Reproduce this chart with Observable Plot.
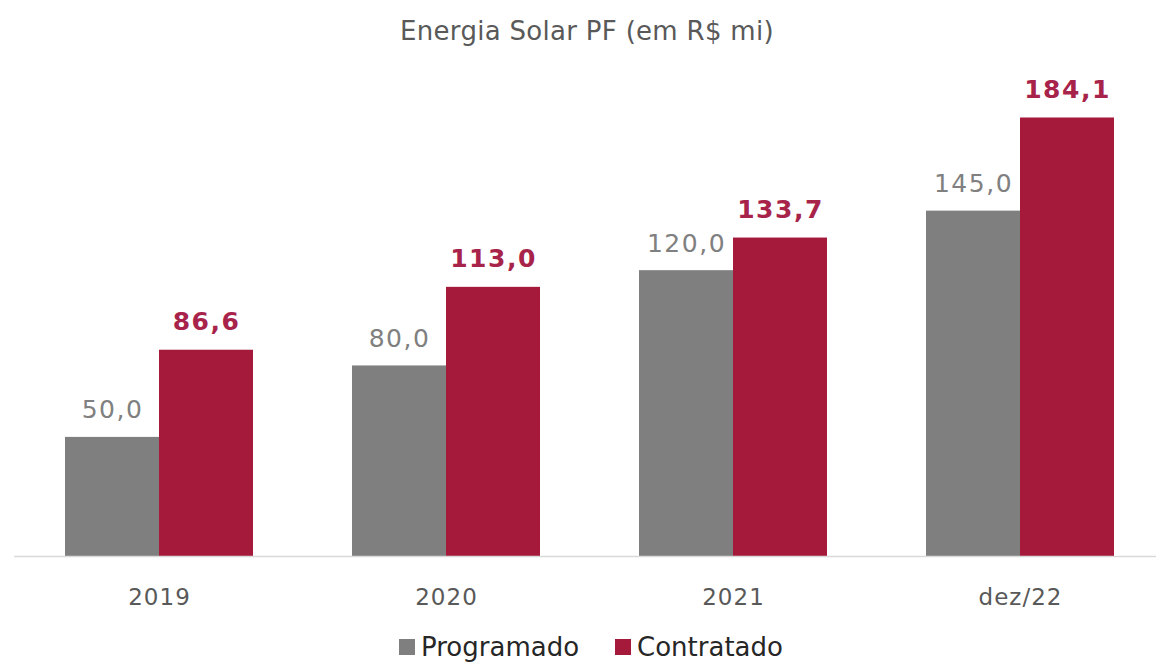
<!DOCTYPE html>
<html>
<head>
<meta charset="utf-8">
<script src="https://cdn.jsdelivr.net/npm/d3@7"></script>
<script src="https://cdn.jsdelivr.net/npm/@observablehq/plot@0.6"></script>
<style>
  html, body { margin: 0; padding: 0; background: #fff; }
  body { width: 1156px; height: 663px; overflow: hidden; font-family: "DejaVu Sans", sans-serif; }
  #title { height: 58px; text-align: center; font-size: 26px; color: #595959; line-height: 62px; padding-left: 18px; box-sizing: border-box; letter-spacing: 0.3px; }
  #chart svg { display: block; }
  #legend { display: flex; justify-content: center; gap: 36px; font-size: 26px; color: #262626; padding-left: 26px; margin-top: 12px; }
  #legend span.item { display: flex; align-items: center; }
  #legend i { display: inline-block; width: 16px; height: 16px; margin-right: 6px; }
</style>
</head>
<body>
<div id="title">Energia Solar PF (em R$ mi)</div>
<div id="chart"></div>
<div id="legend"></div>
<script>
const categories = ["2019", "2020", "2021", "dez/22"];
const programado = [50.0, 80.0, 120.0, 145.0];
const contratado = [86.6, 113.0, 133.7, 184.1];
const seriesNames = ["Programado", "Contratado"];
const seriesColors = ["#7f7f7f", "#a51a3b"];
const labelColors = ["#808080", "#a8234a"];

const fmt = v => v.toFixed(1).replace(".", ",");
const progData = categories.map((c, i) => ({cat: c, value: programado[i]}));
const contData = categories.map((c, i) => ({cat: c, value: contratado[i]}));

const half = 94;
const chart = Plot.plot({
  width: 1156,
  height: 562,
  marginLeft: 14,
  marginRight: 0,
  marginTop: 24,
  marginBottom: 64,
  style: {fontFamily: "DejaVu Sans, sans-serif", background: "#fff"},
  x: {type: "band", domain: categories, paddingInner: 0.345, paddingOuter: 0.162, align: 0.548, label: null},
  y: {domain: [0, 199], axis: null},
  marks: [
    Plot.barY(progData, {x: "cat", y: "value", fill: seriesColors[0], insetLeft: 0, insetRight: half}),
    Plot.barY(contData, {x: "cat", y: "value", fill: seriesColors[1], insetLeft: half, insetRight: 0}),
    Plot.ruleY([0], {stroke: "#d9d9d9", strokeWidth: 1.5}),
    Plot.text(progData, {x: "cat", y: "value", text: d => fmt(d.value), dx: -47, dy: -27, fill: labelColors[0], fontSize: 25, lineAnchor: "middle"}),
    Plot.text(contData, {x: "cat", y: "value", text: d => fmt(d.value), dx: 47, dy: -28, fill: labelColors[1], fontSize: 25, fontWeight: "bold", lineAnchor: "middle"}),
    Plot.axisX({tickSize: 0, tickPadding: 32, fontSize: 23, color: "#595959", label: null})
  ]
});
document.getElementById("chart").appendChild(chart);
// letter spacing to match the reference's wider numerals
d3.select(chart).selectAll("g[aria-label='text'] text").style("letter-spacing", "1.5px");
d3.select(chart).selectAll("g[aria-label='x-axis tick label'] text").style("letter-spacing", "1px");

const legend = document.getElementById("legend");
seriesNames.forEach((n, i) => {
  const s = document.createElement("span");
  s.className = "item";
  s.innerHTML = `<i style="background:${seriesColors[i]}"></i>${n}`;
  legend.appendChild(s);
});
</script>
</body>
</html>
